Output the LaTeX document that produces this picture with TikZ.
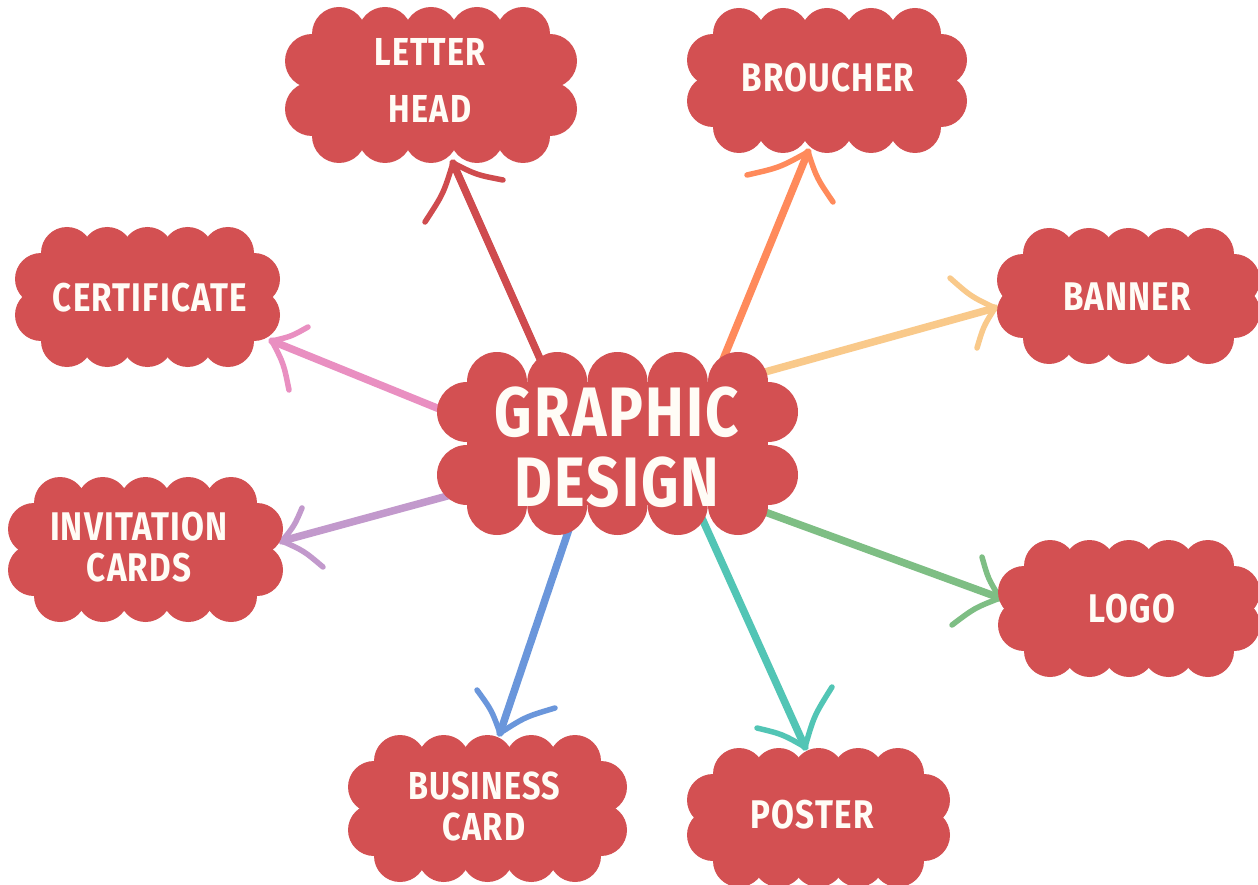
\documentclass[tikz,border=0pt]{standalone}
\usepackage{fontspec}
\newfontfamily\cfont{Fira Sans}[FakeStretch=0.83, LetterSpace=3]
\usetikzlibrary{calc}
\pgfdeclarelayer{bg}
\pgfsetlayers{bg,main}
\definecolor{cloudred}{HTML}{D35052}
\definecolor{txtw}{HTML}{FFFCF6}
\definecolor{cred}{HTML}{CF4B4E}
\definecolor{corange}{HTML}{FF8A5B}
\definecolor{cyellow}{HTML}{F9C98A}
\definecolor{cpink}{HTML}{E98FC1}
\definecolor{cpurple}{HTML}{C299CC}
\definecolor{cblue}{HTML}{6A96DB}
\definecolor{cteal}{HTML}{52C5B5}
\definecolor{cgreen}{HTML}{7EBE84}
\tikzset{
  lbl/.style={text=txtw, font=\cfont\bfseries\fontsize{40}{42}\selectfont, align=center, inner sep=0pt},
  shaft/.style={line width=7.5pt, line cap=round, shorten <=-22pt},
  barb/.style={line width=5.5pt, line cap=round},
}
\newcommand\mycloud[7]{%
  \pgfmathsetmacro\cldxa{#1+2*#5}\pgfmathsetmacro\cldxb{#3-2*#5}%
  \pgfmathsetmacro\cldya{#2+2*#5}\pgfmathsetmacro\cldyb{#4-2*#5}%
  \pgfmathtruncatemacro\cldnx{#6-1}\pgfmathtruncatemacro\cldny{#7-1}%
  \fill[cloudred] (#1+#5,#2+#5) rectangle (#3-#5,#4-#5);
  \foreach \ci in {0,...,\cldnx}{%
    \pgfmathsetmacro\cldx{\cldxa+\ci*(\cldxb-\cldxa)/\cldnx}%
    \fill[cloudred] (\cldx,#2+#5) circle[radius=#5pt] (\cldx,#4-#5) circle[radius=#5pt];}
  \foreach \cj in {0,...,\cldny}{%
    \pgfmathsetmacro\cldy{\cldya+\cj*(\cldyb-\cldya)/\cldny}%
    \fill[cloudred] (#1+#5,\cldy) circle[radius=#5pt] (#3-#5,\cldy) circle[radius=#5pt];}
}
\newcommand\myarrow[5]{%
  \draw[shaft,#1] (#2) -- (#3);
  \coordinate (fA) at ($(#3)!(#4)!(#2)$);
  \coordinate (cA) at ($(#3)!0.5!(#4)!0.14!(fA)$);
  \coordinate (fB) at ($(#3)!(#5)!(#2)$);
  \coordinate (cB) at ($(#3)!0.5!(#5)!0.14!(fB)$);
  \draw[barb,#1] (#3) .. controls (cA) .. (#4);
  \draw[barb,#1] (#3) .. controls (cB) .. (#5);
}
\begin{document}
\begin{tikzpicture}[x=1pt,y=-1pt]
\useasboundingbox (0,0) rectangle (1258,885);
% clouds
\mycloud{437}{352}{798}{535}{30}{5}{2}
\node[lbl, font=\cfont\bfseries\fontsize{70}{70}\selectfont] (gd) at (617,447) {GRAPHIC\\DESIGN};
\mycloud{285}{7}{577}{163}{27}{5}{2}
\node[lbl, font=\cfont\bfseries\fontsize{39}{57}\selectfont] (lh) at (430,80) {LETTER\\HEAD};
\mycloud{687}{8}{967}{153}{26}{5}{2}
\node[lbl] (br) at (828,77.5) {BROUCHER};
\mycloud{15}{227}{280}{367}{26}{5}{2}
\node[lbl] (ce) at (150,297.5) {CERTIFICATE};
\mycloud{997}{228}{1260}{364}{26}{5}{2}
\node[lbl] (ba) at (1127,297) {BANNER};
\mycloud{8}{477}{283}{622}{26}{5}{2}
\node[lbl, font=\cfont\bfseries\fontsize{40}{41}\selectfont] (ic) at (139,547.5) {INVITATION\\CARDS};
\mycloud{998}{540}{1260}{677}{26}{5}{2}
\node[lbl] (lo) at (1132,609) {LOGO};
\mycloud{348}{735}{627}{882}{26}{5}{2}
\node[lbl, font=\cfont\bfseries\fontsize{39}{41}\selectfont] (bc) at (484,806) {BUSINESS\\CARD};
\mycloud{687}{748}{950}{887}{26}{5}{2}
\node[lbl] (po) at (812,815) {POSTER};
% connectors
\begin{pgfonlayer}{bg}
\fill[white] (0,0) rectangle (1258,885);
\coordinate (s1) at (537,352); \coordinate (t1) at (453,163); \coordinate (a1) at (425,222); \coordinate (b1) at (503,180);
\coordinate (s2) at (722,362); \coordinate (t2) at (808,152); \coordinate (a2) at (747,175); \coordinate (b2) at (833,202);
\coordinate (s3) at (765,372); \coordinate (t3) at (995,308); \coordinate (a3) at (950,278); \coordinate (b3) at (977,348);
\coordinate (s4) at (437,408); \coordinate (t4) at (272,341); \coordinate (a4) at (308,327); \coordinate (b4) at (289,390);
\coordinate (s5) at (462,492); \coordinate (t5) at (282,541); \coordinate (a5) at (302,508); \coordinate (b5) at (323,567);
\coordinate (s6) at (567,535); \coordinate (t6) at (500,733); \coordinate (a6) at (477,690); \coordinate (b6) at (555,708);
\coordinate (s7) at (705,525); \coordinate (t7) at (805,747); \coordinate (a7) at (757,728); \coordinate (b7) at (832,687);
\coordinate (s8) at (765,512); \coordinate (t8) at (1000,598); \coordinate (a8) at (982,557); \coordinate (b8) at (952,625);
\myarrow{cred}{s1}{t1}{a1}{b1}
\myarrow{corange}{s2}{t2}{a2}{b2}
\myarrow{cyellow}{s3}{t3}{a3}{b3}
\myarrow{cpink}{s4}{t4}{a4}{b4}
\myarrow{cpurple}{s5}{t5}{a5}{b5}
\myarrow{cblue}{s6}{t6}{a6}{b6}
\myarrow{cteal}{s7}{t7}{a7}{b7}
\myarrow{cgreen}{s8}{t8}{a8}{b8}
\end{pgfonlayer}
\end{tikzpicture}
\end{document}
